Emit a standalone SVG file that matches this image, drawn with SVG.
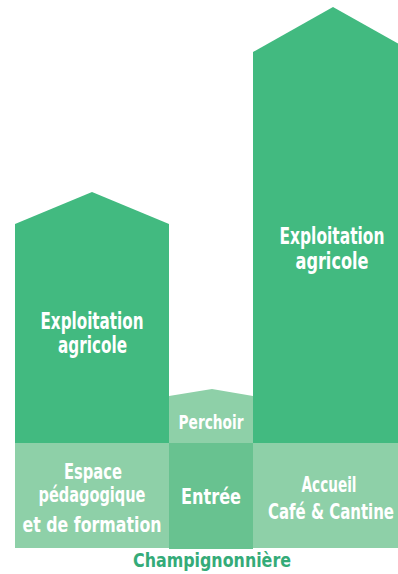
<svg xmlns="http://www.w3.org/2000/svg" width="398" height="574" viewBox="0 0 398 574">
<style>
.main{fill:#42ba80}
.light{fill:#8ed0a8}
.mid{fill:#68c290}
text{font-family:"DejaVu Sans Condensed","Liberation Sans",sans-serif;font-weight:bold;fill:#ffffff;text-anchor:middle}
.big{font-size:23px}
.gf{font-size:21px}
.sm{font-size:20px}
.title{font-size:20px;fill:#34ab78}
</style>
<rect width="398" height="574" fill="#ffffff"/>
<g id="left-building">
<polygon class="main" points="15,224 92,192 169,224 169,443 15,443"/>
<text class="big" x="92" y="329" textLength="103" lengthAdjust="spacingAndGlyphs">Exploitation</text>
<text class="big" x="92.5" y="353" textLength="69" lengthAdjust="spacingAndGlyphs">agricole</text>
</g>
<g id="right-building">
<polygon class="main" points="253,52 333,7 398,43.6 398,443 253,443"/>
<text class="big" x="332" y="244" textLength="105" lengthAdjust="spacingAndGlyphs">Exploitation</text>
<text class="big" x="332" y="269" textLength="73" lengthAdjust="spacingAndGlyphs">agricole</text>
</g>
<g id="perchoir">
<polygon class="light" points="169,396 212,389 253,396 253,443 169,443"/>
<text class="sm" x="211" y="429" textLength="65" lengthAdjust="spacingAndGlyphs">Perchoir</text>
</g>
<g id="espace">
<rect class="light" x="15" y="443" width="154" height="105"/>
<text class="gf" x="93" y="479" textLength="58" lengthAdjust="spacingAndGlyphs">Espace</text>
<text class="gf" x="92" y="502" textLength="107" lengthAdjust="spacingAndGlyphs">pédagogique</text>
<text class="gf" x="92" y="532" textLength="139" lengthAdjust="spacingAndGlyphs">et de formation</text>
</g>
<g id="entree">
<rect class="mid" x="169" y="443" width="84" height="106"/>
<text class="gf" x="211" y="504" textLength="60" lengthAdjust="spacingAndGlyphs">Entrée</text>
</g>
<g id="accueil">
<rect class="light" x="253" y="443" width="145" height="105"/>
<text class="gf" x="329" y="492" textLength="55" lengthAdjust="spacingAndGlyphs">Accueil</text>
<text class="gf" x="331" y="519" textLength="126" lengthAdjust="spacingAndGlyphs">Café &amp; Cantine</text>
</g>
<g id="connectors"/>
<text class="title" x="212" y="567" textLength="158" lengthAdjust="spacingAndGlyphs">Champignonnière</text>
</svg>
